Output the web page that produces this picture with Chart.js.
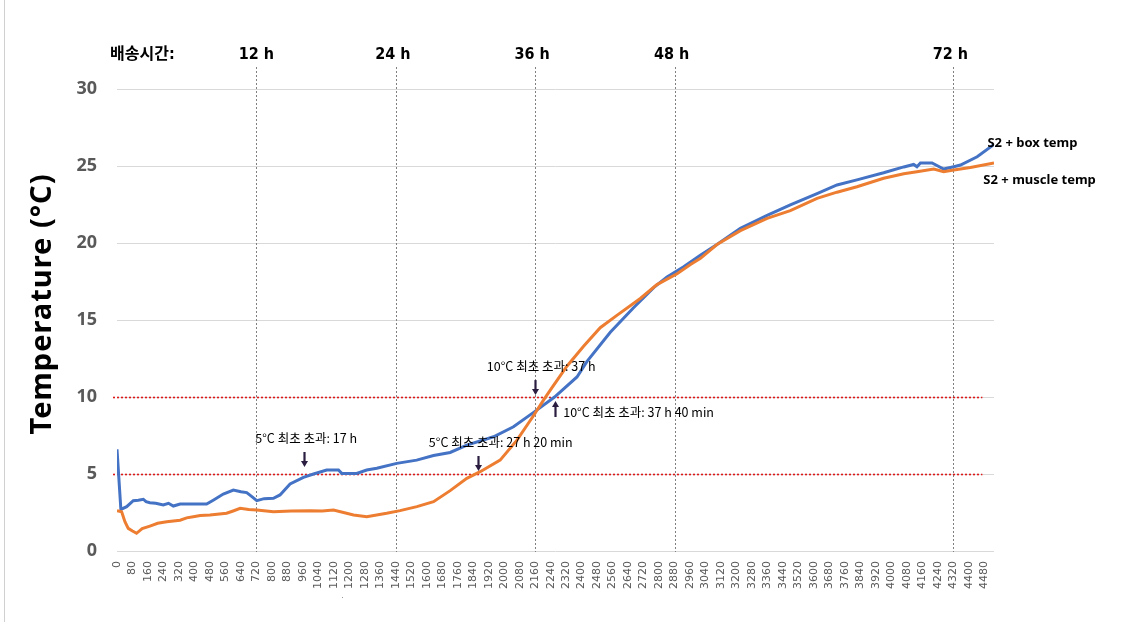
<!DOCTYPE html>
<html><head><meta charset="utf-8">
<script src="https://cdn.jsdelivr.net/npm/chart.js@4"></script>
<style>html,body{margin:0;padding:0;background:#fff}#wrap{width:1122px;height:622px;position:relative}</style>
</head><body><div id="wrap"><canvas id="c" width="1122" height="622"></canvas></div>
<script>
// ---- data (minutes since start, temperature °C) ----
const boxTime = [0,20,50,84,110,136,150,170,200,239,266,291,326,400,463,497,549,601,640,670,700,722,760,808,842,894,963,1015,1083,1144,1161,1238,1290,1342,1445,1548,1635,1721,1807,1945,2048,2152,2260,2376,2427,2548,2668,2772,2841,2927,3013,3099,3220,3358,3478,3616,3719,3822,3960,4064,4115,4132,4150,4210,4240,4270,4322,4357,4443,4530];
const boxTemp = [6.6,2.7,2.88,3.27,3.3,3.36,3.2,3.14,3.1,2.99,3.1,2.92,3.05,3.05,3.05,3.3,3.7,3.96,3.85,3.79,3.5,3.27,3.4,3.42,3.64,4.35,4.78,5.0,5.26,5.26,5.04,5.04,5.26,5.37,5.69,5.9,6.2,6.4,6.88,7.42,8.07,9.0,10.0,11.3,12.3,14.2,15.8,17.1,17.8,18.46,19.2,19.9,20.95,21.8,22.47,23.2,23.77,24.1,24.56,24.94,25.1,24.95,25.2,25.2,25.0,24.8,24.95,25.06,25.6,26.4];
const muscleTime = [0,24,41,58,80,101,130,170,210,257,326,360,394,430,480,566,600,636,680,722,808,900,997,1060,1118,1170,1222,1290,1393,1462,1549,1635,1721,1807,1876,1979,2066,2152,2203,2238,2324,2410,2496,2582,2703,2789,2893,2962,3014,3099,3220,3358,3478,3616,3719,3822,3960,4064,4132,4219,4270,4322,4408,4530];
const muscleTemp = [2.62,2.55,1.9,1.47,1.3,1.15,1.45,1.62,1.8,1.9,2.0,2.15,2.23,2.3,2.34,2.45,2.6,2.77,2.7,2.66,2.55,2.6,2.62,2.6,2.66,2.5,2.34,2.23,2.45,2.62,2.88,3.2,3.92,4.72,5.15,5.9,7.2,8.8,9.8,10.45,12.0,13.3,14.5,15.3,16.4,17.3,18.0,18.6,19.0,19.9,20.8,21.6,22.1,22.9,23.3,23.65,24.2,24.5,24.63,24.8,24.63,24.74,24.9,25.2];
const seriesNames = ['S2 + box temp','S2 + muscle temp'];
const xTickStep = 80;
const xTickLast = 4480;
const xMax = 4530;
const yTicks = [0,5,10,15,20,25,30];
const hourMarks = [720,1440,2160,2880,4320];
const hourLabels = ['12 h','24 h','36 h','48 h','72 h'];
const timeTitle = '배송시간:';
const thresholds = [5,10];
const yTitle = 'Temperature (°C)';
const noteTexts = ['5°C 최초 초과: 17 h','5°C 최초 초과: 27 h 20 min','10°C 최초 초과: 37 h','10°C 최초 초과: 37 h 40 min'];

const BLUE = '#4472C4', ORANGE = '#ED7D31';

const deco = {
  id: 'deco',
  beforeDatasetsDraw(chart) {
    const {ctx, chartArea: a, scales: {x, y}} = chart;
    ctx.save();
    ctx.strokeStyle = '#808080'; ctx.lineWidth = 1; ctx.setLineDash([2,2]);
    hourMarks.forEach(m => {
      const px = Math.round(x.getPixelForValue(m)) + 0.5;
      ctx.beginPath(); ctx.moveTo(px, 67); ctx.lineTo(px, a.bottom + 1); ctx.stroke();
    });
    ctx.strokeStyle = '#E01818'; ctx.lineWidth = 1.6; ctx.setLineDash([2,2]);
    thresholds.forEach(t => {
      const py = Math.round(y.getPixelForValue(t)) + 0.5;
      ctx.beginPath(); ctx.moveTo(a.left - 4, py); ctx.lineTo(x.getPixelForValue(4470), py); ctx.stroke();
    });
    ctx.restore();
  },
  afterDraw(chart) {
    const {ctx, chartArea: a, scales: {x, y}} = chart;
    ctx.save();
    ctx.strokeStyle = '#d0d0d0'; ctx.lineWidth = 1;
    ctx.beginPath(); ctx.moveTo(4.5, 0); ctx.lineTo(4.5, 622); ctx.stroke();
    ctx.fillStyle = '#000'; ctx.textBaseline = 'middle';
    ctx.font = 'bold 16px "DejaVu Sans Condensed", "Noto Sans CJK KR", sans-serif';
    ctx.textAlign = 'left';
    ctx.fillText(timeTitle, a.left - 7, 55);
    ctx.textAlign = 'center';
    hourMarks.forEach((m, i) => {
      ctx.fillText(hourLabels[i], x.getPixelForValue(m) - (i === 0 ? 0 : 3), 55);
    });
    ctx.save();
    ctx.translate(43, 304); ctx.rotate(-Math.PI/2);
    ctx.font = 'bold 29px "Noto Sans", sans-serif';
    if ('letterSpacing' in ctx) ctx.letterSpacing = '1px';
    ctx.textAlign = 'center'; ctx.textBaseline = 'middle';
    ctx.fillText(yTitle, 0, 0);
    ctx.restore();
    ctx.font = 'bold 13px "Noto Sans", sans-serif';
    ctx.textAlign = 'left'; ctx.textBaseline = 'middle';
    ctx.fillText(seriesNames[0], x.getPixelForValue(4496), y.getPixelForValue(26.5));
    ctx.fillText(seriesNames[1], x.getPixelForValue(4475), y.getPixelForValue(24.1));
    ctx.font = '12.5px "Noto Sans CJK KR", sans-serif';
    const notes = [
      {t: 977, v: 7.34, align: 'center', ax: 966, a0: 6.43, a1: 5.45},
      {t: 1982, v: 7.08, align: 'center', ax: 1866, a0: 6.17, a1: 5.19},
      {t: 2191, v: 12.01, align: 'center', ax: 2160, a0: 11.1, a1: 10.13},
      {t: 2305, v: 9.03, align: 'left', ax: 2264, a0: 8.7, a1: 9.74}
    ];
    notes.forEach((n, i) => {
      ctx.fillStyle = '#000'; ctx.textAlign = n.align;
      ctx.fillText(noteTexts[i], x.getPixelForValue(n.t), y.getPixelForValue(n.v));
      const ax = Math.round(x.getPixelForValue(n.ax)) + 0.5;
      const y0 = y.getPixelForValue(n.a0), y1 = y.getPixelForValue(n.a1);
      const dir = Math.sign(y1 - y0);
      ctx.strokeStyle = '#2b1d40'; ctx.fillStyle = '#2b1d40'; ctx.lineWidth = 2.2;
      ctx.beginPath(); ctx.moveTo(ax, y0); ctx.lineTo(ax, y1 - dir * 5); ctx.stroke();
      ctx.beginPath(); ctx.moveTo(ax - 3.5, y1 - dir * 6); ctx.lineTo(ax + 3.5, y1 - dir * 6); ctx.lineTo(ax, y1); ctx.closePath(); ctx.fill();
    });
    ctx.fillStyle = '#999'; ctx.fillRect(342, 597, 1, 1);
    ctx.restore();
  }
};

const toXY = (ts, vs) => ts.map((t, i) => ({x: t, y: vs[i]}));

new Chart(document.getElementById('c'), {
  type: 'line',
  data: {
    datasets: [
      {label: seriesNames[0], data: toXY(boxTime, boxTemp), borderColor: BLUE, borderWidth: 3, pointRadius: 0, tension: 0, order: 1},
      {label: seriesNames[1], data: toXY(muscleTime, muscleTemp), borderColor: ORANGE, borderWidth: 3, pointRadius: 0, tension: 0, order: 0}
    ]
  },
  options: {
    responsive: false, animation: false, devicePixelRatio: 1,
    layout: {padding: {top: 89, right: 128, left: 0, bottom: 0}},
    plugins: {legend: {display: false}, tooltip: {enabled: false}},
    scales: {
      x: {
        type: 'linear', min: 0, max: xMax,
        afterFit: s => { s.height = 71; },
        afterBuildTicks: s => {
          const t = [];
          for (let v = 0; v <= xTickLast; v += xTickStep) t.push({value: v});
          s.ticks = t;
        },
        grid: {display: false, drawTicks: false},
        border: {display: false},
        ticks: {stepSize: xTickStep, autoSkip: false, minRotation: 90, maxRotation: 90, padding: 10,
          color: '#595959', font: {family: '"DejaVu Sans"', size: 11}, callback: v => String(v)}
      },
      y: {
        min: 0, max: 30,
        afterFit: s => { s.width = 117; },
        afterBuildTicks: s => { s.ticks = yTicks.map(v => ({value: v})); },
        grid: {color: '#d9d9d9', drawTicks: false},
        border: {display: false},
        ticks: {padding: 20, color: '#595959', font: {family: '"Noto Sans"', size: 18, weight: 'bold'}}
      }
    }
  },
  plugins: [deco]
});
</script>
</body></html>
